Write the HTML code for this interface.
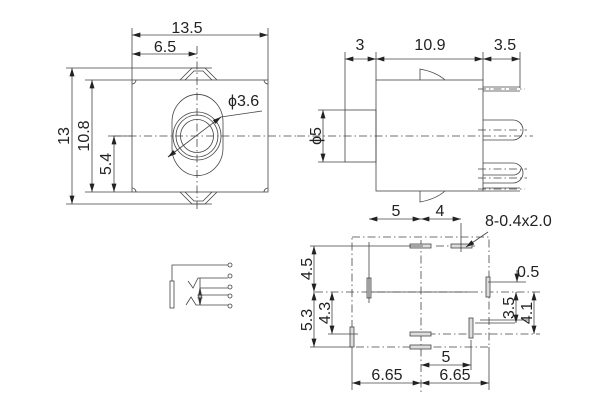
<!DOCTYPE html>
<html><head><meta charset="utf-8"><style>html,body{margin:0;padding:0;background:#fff}svg{display:block}</style></head><body>
<svg width="600" height="400" viewBox="0 0 600 400" xmlns="http://www.w3.org/2000/svg" font-family="Liberation Sans, sans-serif" font-size="16" fill="none" stroke="#333" stroke-width="1">
<defs>
<marker id="a" viewBox="0 0 10 6" refX="10" refY="3" markerWidth="9" markerHeight="5" orient="auto-start-reverse" markerUnits="userSpaceOnUse"><path d="M0,0 L10,3 L0,6z" fill="#222" stroke="none"/></marker>
</defs>
<g stroke="#444" stroke-width="0.8">
<!-- FRONT VIEW -->
<rect x="132" y="80" width="136" height="112"/>
<path d="M180,80 L192,68 L205,68 L217,80 M185,80 L194,71 L203,71 L212,80"/>
<path d="M180,192 L192,204 L205,204 L217,192 M185,192 L194,201 L203,201 L212,192"/>
<path d="M132,84 a4,4 0 0 0 4,-4 M268,84 a4,4 0 0 1 -4,-4 M132,188 a4,4 0 0 1 4,4 M268,188 a4,4 0 0 0 -4,4"/>
<path d="M172,122 a25,27 0 0 1 51,0 L223,148 a25,27 0 0 1 -51,0 Z"/>
<circle cx="197" cy="136" r="24"/><circle cx="197" cy="136" r="21"/><circle cx="197" cy="136" r="16.5"/>
<path d="M197,46 V212 M113,136 H298" stroke-dasharray="8,3,1.5,3"/>
<path d="M168,157 L221,117 L262,111" />
<path d="M132,28 V80 M268,28 V80 M66,68 H212 M66,204 H212 M85,80 H132 M85,192 H132 M108,136 H132"/>
<path d="M132,35 H268" marker-start="url(#a)" marker-end="url(#a)"/>
<path d="M132,54 H197" marker-start="url(#a)" marker-end="url(#a)"/>
<path d="M72,68 V204" marker-start="url(#a)" marker-end="url(#a)"/>
<path d="M92,80 V192" marker-start="url(#a)" marker-end="url(#a)"/>
<path d="M114,136 V192" marker-start="url(#a)" marker-end="url(#a)"/>
<path d="M176,151 L168,157" marker-end="url(#a)"/><path d="M213,123 L221,117" marker-end="url(#a)"/>

<!-- SIDE VIEW -->
<rect x="376" y="80" width="107" height="111"/>
<rect x="345" y="110" width="31" height="52"/>
<path d="M420,80 V69 Q436,72 445,80 M420,191 V202 Q436,199 445,191"/>
<path d="M483,87 H520 M483,91 H520"/>
<path d="M483,120 H513 a10,10 0 0 1 0,20 H483"/>
<path d="M483,163 H513 a10,10 0 0 1 0,20 H483 M483,175 H513 a8,8 0 0 0 8,-6"/>
<path d="M483,188 H520 M483,191 H520"/>
<path d="M297,136 H533 M478,89 H525 M478,130 H527 M478,169 H527 M478,178 H527 M478,189 H525" stroke-dasharray="8,3,1.5,3"/>
<path d="M345,52 V110 M376,52 V80 M483,52 V80 M520,52 V88 M318,110 H345 M318,162 H345"/>
<path d="M345,59 H376" marker-start="url(#a)" marker-end="url(#a)"/>
<path d="M376,59 H483" marker-start="url(#a)" marker-end="url(#a)"/>
<path d="M483,59 H520" marker-start="url(#a)" marker-end="url(#a)"/>
<path d="M323,110 V162" marker-start="url(#a)" marker-end="url(#a)"/>

<!-- BOTTOM VIEW -->
<rect x="352" y="237" width="137" height="110" stroke-dasharray="8,3,1.5,3"/>
<path d="M421,240 V395 M315,292 H540 M436,246 H475 M412,334 H540" stroke-dasharray="8,3,1.5,3"/>
<g fill="#ddd" stroke="#444"><rect x="410" y="244" width="21" height="4"/><rect x="451" y="244" width="21" height="4"/>
<rect x="367" y="278" width="4" height="20"/><rect x="486" y="277" width="4" height="20"/>
<rect x="469" y="318" width="4" height="20"/><rect x="410" y="332" width="21" height="4"/>
<rect x="410" y="345" width="21" height="4"/><rect x="350" y="327" width="4" height="20"/></g>
<path d="M369,242 V303 M461,223 V252 M310,246 H423 M310,347 H352 M328,334 H358 M475,323 H515 M471,340 V370 M352,347 V390 M489,347 V390 M371,292 H470 M488,282 H526 M480,320 H528"/>
<path d="M369,219 H421" marker-start="url(#a)" marker-end="url(#a)"/>
<path d="M421,219 H461" marker-start="url(#a)" marker-end="url(#a)"/>
<path d="M314,246 V292" marker-start="url(#a)" marker-end="url(#a)"/>
<path d="M314,292 V347" marker-start="url(#a)" marker-end="url(#a)"/>
<path d="M332,292 V334" marker-start="url(#a)" marker-end="url(#a)"/>
<path d="M516,292 V323" marker-start="url(#a)" marker-end="url(#a)"/>
<path d="M534,292 V334" marker-start="url(#a)" marker-end="url(#a)"/>
<path d="M517,270 V282" marker-end="url(#a)"/>
<path d="M421,365 H471" marker-start="url(#a)" marker-end="url(#a)"/>
<path d="M352,383 H421" marker-start="url(#a)" marker-end="url(#a)"/>
<path d="M421,383 H489" marker-start="url(#a)" marker-end="url(#a)"/>
<path d="M488,232 L466,247" marker-end="url(#a)"/>

<!-- SCHEMATIC -->
<rect x="170" y="281" width="4" height="27"/>
<path d="M172,281 V265 H228 M188,281 L193,288 L198,278 H228 M200,288 H228 M200,295 H228 M186,305 L191,297 L196,305 H228"/>
<path d="M200,278 V288 M200,295 V305"/>
<path d="M198,298 L200,288 L202,298 Z M198,295 L200,305 L202,295 Z" fill="#222"/>
<circle cx="230" cy="265" r="2"/><circle cx="230" cy="276" r="2"/><circle cx="230" cy="287" r="2"/><circle cx="230" cy="296" r="2"/><circle cx="230" cy="306" r="2"/>
</g>
<g fill="#222" stroke="none">
<text x="187" y="33" text-anchor="middle">13.5</text>
<text x="165" y="52" text-anchor="middle">6.5</text>
<text x="228" y="106">ϕ3.6</text>
<text transform="translate(69,136) rotate(-90)" text-anchor="middle">13</text>
<text transform="translate(89,136) rotate(-90)" text-anchor="middle">10.8</text>
<text transform="translate(111,164) rotate(-90)" text-anchor="middle">5.4</text>
<text x="360" y="50" text-anchor="middle">3</text>
<text x="430" y="50" text-anchor="middle">10.9</text>
<text x="505" y="50" text-anchor="middle">3.5</text>
<text transform="translate(321,136) rotate(-90)" text-anchor="middle">ϕ5</text>
<text x="396" y="216" text-anchor="middle">5</text>
<text x="440" y="216" text-anchor="middle">4</text>
<text x="485" y="226">8-0.4x2.0</text>
<text x="517" y="277">0.5</text>
<text transform="translate(312,269) rotate(-90)" text-anchor="middle">4.5</text>
<text transform="translate(312,320) rotate(-90)" text-anchor="middle">5.3</text>
<text transform="translate(330,313) rotate(-90)" text-anchor="middle">4.3</text>
<text transform="translate(514,308) rotate(-90)" text-anchor="middle">3.5</text>
<text transform="translate(532,313) rotate(-90)" text-anchor="middle">4.1</text>
<text x="446" y="362" text-anchor="middle">5</text>
<text x="387" y="380" text-anchor="middle">6.65</text>
<text x="455" y="380" text-anchor="middle">6.65</text>
</g>
</svg>
</body></html>
